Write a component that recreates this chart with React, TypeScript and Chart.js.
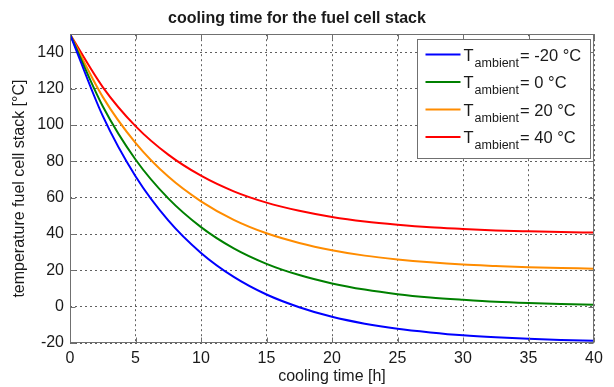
import React, { useEffect, useRef } from 'react';
import { Chart, registerables } from 'chart.js';

Chart.register(...registerables);

// cooling time [h]
const hours = [0, 2.5, 5, 7.5, 10, 12.5, 15, 17.5, 20, 22.5, 25, 27.5, 30, 32.5, 35, 37.5, 40];
// stack temperature [°C] for each ambient temperature
const tempAmbM20 = [150, 105, 71.8, 47.5, 29.6, 16.4, 6.7, -0.3, -5.6, -9.4, -12.2, -14.2, -15.8, -16.9, -17.7, -18.3, -18.8];
const tempAmb0 = [150, 110.3, 81, 59.6, 43.8, 32.1, 23.6, 17.4, 12.8, 9.4, 6.9, 5.1, 3.8, 2.7, 2, 1.5, 1.1];
const tempAmb20 = [150, 115.5, 90.2, 71.6, 58, 47.8, 40.4, 35.1, 31.1, 28.1, 26, 24.4, 23.2, 22.4, 21.7, 21.3, 20.9];
const tempAmb40 = [150, 120.9, 99.4, 83.7, 72.1, 63.5, 57.3, 52.8, 49.4, 46.9, 45.1, 43.7, 42.8, 42, 41.5, 41.1, 40.8];

const xTicks = [0, 5, 10, 15, 20, 25, 30, 35, 40];
const yTicks = [-20, 0, 20, 40, 60, 80, 100, 120, 140];
const ambientLabels = ['-20 °C', '0 °C', '20 °C', '40 °C'];
const seriesColors = ['#0000ff', '#008000', '#ff8c00', '#ff0000'];

const FONT = "'Liberation Sans', Arial, Helvetica, sans-serif";
const FRAME = '#707070';

const boxPlugin = {
  id: 'matlabBox',
  afterDatasetsDraw(chart: any) {
    const { ctx, chartArea: a, scales } = chart;
    const L = Math.round(a.left) + 0.5;
    const R = Math.round(a.right) - 0.5;
    const T = Math.round(a.top) + 0.5;
    const B = Math.round(a.bottom) - 0.5;
    ctx.save();
    ctx.strokeStyle = FRAME;
    ctx.lineWidth = 1;
    ctx.strokeRect(L, T, R - L, B - T);
    const tl = 5;
    ctx.beginPath();
    xTicks.forEach((v) => {
      const x = Math.round(scales.x.getPixelForValue(v)) + 0.5;
      ctx.moveTo(x, B); ctx.lineTo(x, B - tl);
      ctx.moveTo(x, T); ctx.lineTo(x, T + tl);
    });
    yTicks.forEach((v) => {
      const y = Math.round(scales.y.getPixelForValue(v)) + 0.5;
      ctx.moveTo(L, y); ctx.lineTo(L + tl, y);
      ctx.moveTo(R, y); ctx.lineTo(R - tl, y);
    });
    ctx.stroke();
    ctx.restore();
  },
};

const legendPlugin = {
  id: 'matlabLegend',
  afterDraw(chart: any) {
    const { ctx, chartArea: a } = chart;
    const right = Math.round(a.right) - 3.5;
    const left = right - 173;
    const top = Math.round(a.top) + 5.5;
    const height = 119;
    ctx.save();
    ctx.fillStyle = '#ffffff';
    ctx.fillRect(left, top, right - left, height);
    ctx.strokeStyle = FRAME;
    ctx.lineWidth = 1;
    ctx.strokeRect(left, top, right - left, height);
    ambientLabels.forEach((lab, i) => {
      const cy = top + 15 + i * 27.5;
      ctx.strokeStyle = seriesColors[i];
      ctx.lineWidth = 2;
      ctx.beginPath();
      ctx.moveTo(left + 8, cy);
      ctx.lineTo(left + 43, cy);
      ctx.stroke();
      ctx.fillStyle = '#1a1a1a';
      ctx.textBaseline = 'alphabetic';
      ctx.textAlign = 'left';
      ctx.font = `16.5px ${FONT}`;
      const tx = left + 46;
      ctx.fillText('T', tx, cy + 6);
      const tw = ctx.measureText('T').width;
      ctx.font = `12.5px ${FONT}`;
      ctx.fillText('ambient', tx + tw + 1, cy + 12);
      const sw = ctx.measureText('ambient').width;
      ctx.font = `16.5px ${FONT}`;
      ctx.fillText('= ' + lab, tx + tw + 1 + sw + 1, cy + 6);
    });
    ctx.restore();
  },
};

export default function App() {
  const ref = useRef<HTMLCanvasElement | null>(null);
  useEffect(() => {
    if (!ref.current) return;
    const series = [tempAmbM20, tempAmb0, tempAmb20, tempAmb40];
    const chart = new Chart(ref.current, {
      type: 'line',
      data: {
        datasets: series.map((s, i) => ({
          label: 'T_ambient = ' + ambientLabels[i],
          data: hours.map((h, j) => ({ x: h, y: s[j] })),
          borderColor: seriesColors[i],
          backgroundColor: seriesColors[i],
          borderWidth: 2,
          pointRadius: 0,
          cubicInterpolationMode: 'monotone' as const,
          fill: false,
        })),
      },
      options: {
        animation: false,
        responsive: false,
        devicePixelRatio: 1,
        layout: { padding: { left: 0, right: 20, top: 0, bottom: 0 } },
        plugins: {
          legend: { display: false },
          tooltip: { enabled: false },
          title: {
            display: true,
            text: 'cooling time for the fuel cell stack',
            color: '#1a1a1a',
            font: { family: FONT, size: 16, weight: 'bold' },
            padding: { top: 9, bottom: 6 },
          },
        },
        scales: {
          x: {
            type: 'linear',
            min: 0,
            max: 40,
            afterFit: (s: any) => { s.height = 44; },
            afterBuildTicks: (s: any) => { s.ticks = xTicks.map((v) => ({ value: v })); },
            grid: { color: '#606060', lineWidth: 1, drawTicks: false },
            border: { display: false, dash: [2, 3] },
            ticks: { color: '#1a1a1a', font: { family: FONT, size: 16 }, padding: 6, maxRotation: 0 },
            title: {
              display: true,
              text: 'cooling time [h]',
              color: '#1a1a1a',
              font: { family: FONT, size: 16 },
              padding: { top: 0, bottom: 1 },
            },
          },
          y: {
            type: 'linear',
            min: -20,
            max: 150,
            afterFit: (s: any) => { s.width = 70; },
            afterBuildTicks: (s: any) => { s.ticks = yTicks.map((v) => ({ value: v })); },
            grid: { color: '#606060', lineWidth: 1, drawTicks: false },
            border: { display: false, dash: [2, 3] },
            ticks: { color: '#1a1a1a', font: { family: FONT, size: 16 }, padding: 6 },
            title: {
              display: true,
              text: 'temperature fuel cell stack [°C]',
              color: '#1a1a1a',
              font: { family: FONT, size: 16 },
              padding: { top: 10, bottom: 0 },
            },
          },
        },
      },
      plugins: [boxPlugin, legendPlugin],
    });
    return () => chart.destroy();
  }, []);
  return (
    <div style={{ position: 'fixed', left: 0, top: 0, width: 614, height: 387, background: '#fff' }}>
      <canvas ref={ref} width={614} height={387} style={{ display: 'block' }} />
    </div>
  );
}
